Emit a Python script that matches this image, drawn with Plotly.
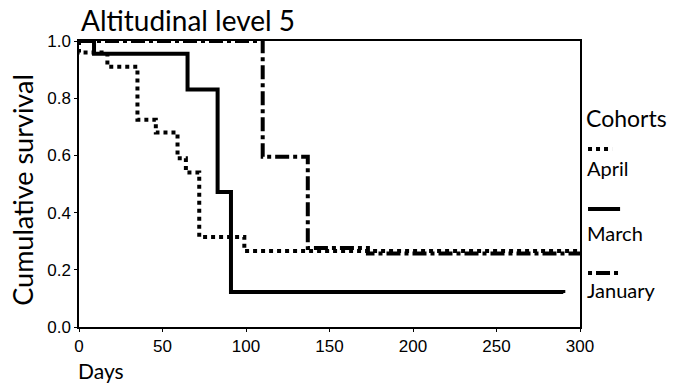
import plotly.graph_objects as go

# Data (Kaplan-Meier style step curves)
april_days = [0, 0, 17, 35, 46, 59, 64, 72, 99, 300]
april_surv = [1.0, 0.96, 0.91, 0.725, 0.68, 0.59, 0.54, 0.315, 0.266, 0.262]

march_days = [0, 9, 65, 83, 91, 290]
march_surv = [1.0, 0.955, 0.83, 0.472, 0.122, 0.119]

january_days = [0, 110, 137, 173, 300]
january_surv = [1.0, 0.595, 0.276, 0.257, 0.257]

x_ticks = [0, 50, 100, 150, 200, 250, 300]
y_ticks = [0.0, 0.2, 0.4, 0.6, 0.8, 1.0]

FONT = "Lato"
TICKFONT = "Liberation Sans Narrow, Arial Narrow, Liberation Sans"

fig = go.Figure()
fig.add_trace(go.Scatter(x=april_days, y=april_surv, mode="lines", line_shape="hv",
                         line=dict(color="black", width=4, dash="4px,4px"), name="April"))
fig.add_trace(go.Scatter(x=march_days, y=march_surv, mode="lines", line_shape="hv",
                         line=dict(color="black", width=4), name="March"))
fig.add_trace(go.Scatter(x=january_days, y=january_surv, mode="lines", line_shape="hv",
                         line=dict(color="black", width=4, dash="14px,4px,4px,4px"), name="January"))

axis_common = dict(showline=True, linecolor="black", linewidth=1.5, mirror=True,
                   showgrid=False, zeroline=False, ticks="outside", ticklen=3,
                   tickcolor="black", tickfont=dict(family=TICKFONT, size=17, color="black"))

fig.update_layout(
    width=679, height=383,
    margin=dict(l=79, r=99, t=41, b=56),
    paper_bgcolor="white", plot_bgcolor="white",
    showlegend=False,
    xaxis=dict(range=[0, 300], tickvals=x_ticks, ticktext=[str(v) for v in x_ticks], **axis_common),
    yaxis=dict(range=[0, 1], tickvals=y_ticks, ticktext=[f"{v:.1f}" for v in y_ticks], **axis_common),
)

fig.add_annotation(text="Altitudinal level 5", xref="paper", yref="paper", x=0, y=1.0,
                   xanchor="left", yanchor="middle", yshift=21, xshift=0, showarrow=False,
                   font=dict(family=FONT, size=28, color="black"))
fig.add_annotation(text="Cumulative survival", xref="paper", yref="paper", x=0, y=0.48,
                   xanchor="center", yanchor="middle",
                   xshift=-56, textangle=-90, showarrow=False,
                   font=dict(family=FONT, size=27, color="black"))
fig.add_annotation(text="Days", xref="paper", yref="paper", x=0, y=0,
                   xanchor="left", yanchor="middle", yshift=-43, xshift=-3, showarrow=False,
                   font=dict(family=FONT, size=21, color="black"))

# Legend block on the right (line sample above each label)
fig.add_annotation(text="Cohorts", xref="paper", yref="paper", x=1.008, y=0.731,
                   xanchor="left", yanchor="middle", showarrow=False,
                   font=dict(family=FONT, size=23, color="black"))
rows = [("April", "4px,4px", 0.622, 0.556, 1.064),
        ("March", "solid", 0.413, 0.329, 1.080),
        ("January", "4px,4px,14px,4px,4px", 0.189, 0.129, 1.080)]
for name, dash, ly, ty, x1 in rows:
    fig.add_shape(type="line", xref="paper", yref="paper", x0=1.016, x1=x1, y0=ly, y1=ly,
                  line=dict(color="black", width=4, dash=dash))
    fig.add_annotation(text=name, xref="paper", yref="paper", x=1.010, y=ty,
                       xanchor="left", yanchor="middle", showarrow=False,
                       font=dict(family=FONT, size=20, color="black"))

fig.write_html("out.html", config={"displayModeBar": False},
               post_script="document.body.style.margin='0px';")
